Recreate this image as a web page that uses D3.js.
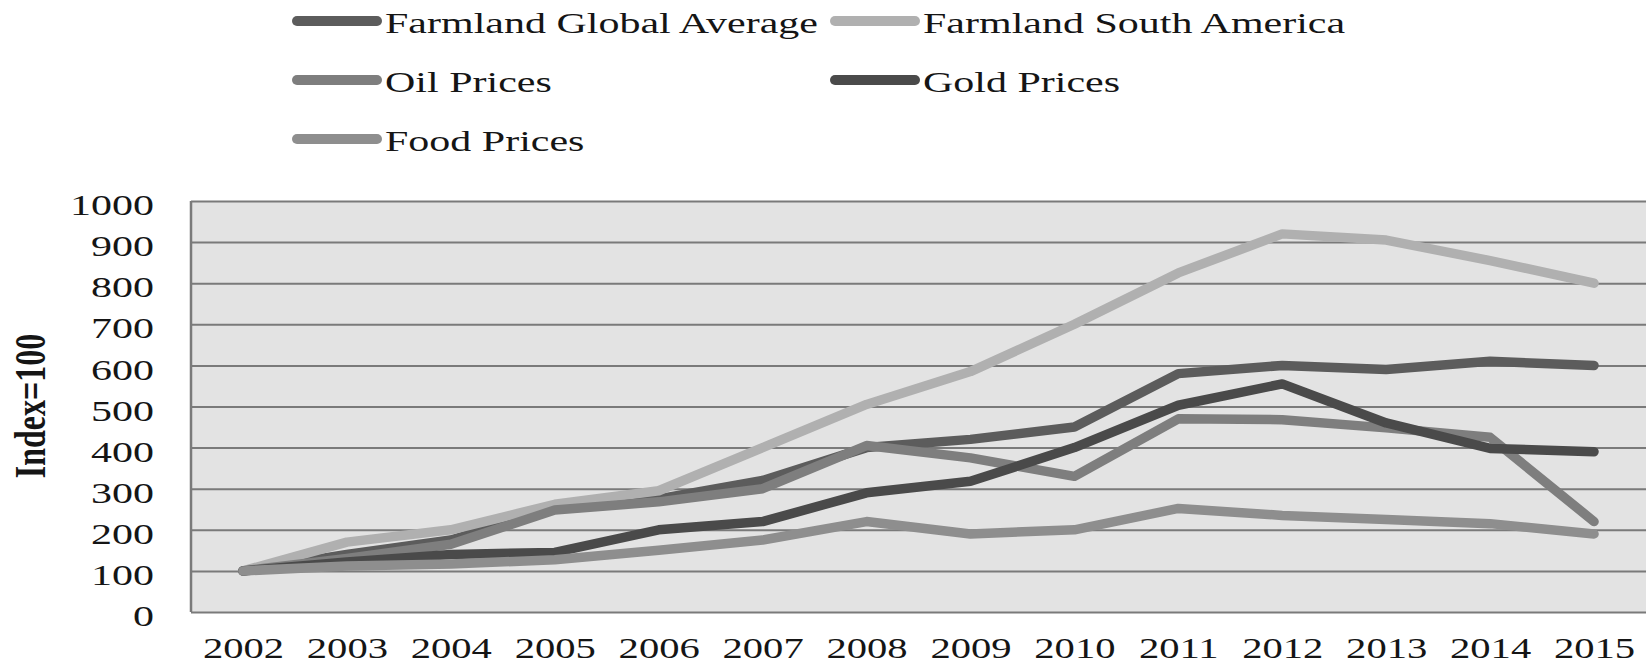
<!DOCTYPE html>
<html>
<head>
<meta charset="utf-8">
<script src="https://cdn.jsdelivr.net/npm/d3@7"></script>
<style>
    body { margin: 0; background: #fff; }
    text { font-family: "Liberation Serif", "DejaVu Serif", serif; fill: #151515; }
</style>
</head>
<body>
<div class="chart__container"></div>
<script>
/*---------------------------Data---------------------------*/

const YEARS = [2002, 2003, 2004, 2005, 2006, 2007, 2008, 2009, 2010, 2011, 2012, 2013, 2014, 2015];
const Y_TICKS = [0, 100, 200, 300, 400, 500, 600, 700, 800, 900, 1000];

const SERIES_NAMES = ["Farmland Global Average", "Farmland South America", "Oil Prices", "Gold Prices", "Food Prices"];
const FARMLAND_GLOBAL = [100, 140, 175, 250, 275, 320, 400, 420, 450, 580, 600, 590, 610, 600];
const FARMLAND_SOUTH_AMERICA = [100, 170, 200, 262, 295, 400, 505, 585, 700, 825, 920, 905, 855, 800];
const OIL_PRICES = [100, 130, 165, 248, 268, 300, 405, 375, 330, 470, 468, 448, 425, 220];
const GOLD_PRICES = [100, 122, 140, 145, 200, 220, 290, 318, 400, 503, 555, 460, 398, 390];
const FOOD_PRICES = [100, 112, 117, 127, 150, 175, 220, 190, 200, 252, 235, 225, 215, 190];

/*---------------------------Init---------------------------*/

const CHART__WIDTH = 1650;
const CHART__HEIGHT = 667;
const PLOT = { left: 191, right: 1646, top: 201, bottom: 612 };
const STRETCH = 1.4; // text in the picture is wide, stretch it horizontally
const COLOR = ["#5c5c5c", "#b0b0b0", "#7e7e7e", "#4a4a4a", "#8e8e8e"];

const seriesValues = [FARMLAND_GLOBAL, FARMLAND_SOUTH_AMERICA, OIL_PRICES, GOLD_PRICES, FOOD_PRICES];
const series = SERIES_NAMES.map((name, i) => ({
    name: name,
    color: COLOR[i],
    values: YEARS.map((y, j) => ({ year: y, value: seriesValues[i][j] }))
}));

const svg = d3.select(".chart__container").append("svg")
    .attr("width", CHART__WIDTH)
    .attr("height", CHART__HEIGHT)
    .style("display", "block");

const xScale = d3.scalePoint().domain(YEARS).range([PLOT.left, PLOT.right]).padding(0.5);
const yScale = d3.scaleLinear().domain([0, 1000]).range([PLOT.bottom, PLOT.top]);

//plot background

svg.append("rect")
    .attr("x", PLOT.left)
    .attr("y", PLOT.top)
    .attr("width", PLOT.right - PLOT.left)
    .attr("height", PLOT.bottom - PLOT.top)
    .attr("fill", "#e3e3e3");

//gridlines

svg.append("g")
    .attr("transform", `translate(${PLOT.left},0)`)
    .call(d3.axisLeft(yScale).tickValues(Y_TICKS).tickSize(-(PLOT.right - PLOT.left)).tickFormat(""))
    .call(g => g.select(".domain").remove())
    .call(g => g.selectAll("line").attr("stroke", "#7a7a7a").attr("stroke-width", 2));

//left border

svg.append("line")
    .attr("x1", PLOT.left).attr("x2", PLOT.left)
    .attr("y1", PLOT.top).attr("y2", PLOT.bottom)
    .attr("stroke", "#7a7a7a")
    .attr("stroke-width", 2.5);

//y-axis labels

svg.append("g")
    .attr("transform", `translate(${PLOT.left},0)`)
    .call(d3.axisLeft(yScale).tickValues(Y_TICKS).tickSize(0).tickFormat(d3.format("d")))
    .call(g => g.select(".domain").remove())
    .call(g => g.selectAll("text")
        .attr("x", 0)
        .attr("dy", "0.32em")
        .attr("transform", `translate(-37,4) scale(${STRETCH},1)`)
        .style("font-family", "'Liberation Serif', serif")
        .style("font-size", "30px")
        .attr("fill", "#151515"));

//x-axis labels

svg.append("g")
    .attr("transform", `translate(0,${PLOT.bottom})`)
    .call(d3.axisBottom(xScale).tickSize(0))
    .call(g => g.select(".domain").remove())
    .call(g => g.selectAll("text")
        .attr("y", 0)
        .attr("dy", 0)
        .attr("transform", `translate(0,46) scale(${STRETCH},1)`)
        .style("font-family", "'Liberation Serif', serif")
        .style("font-size", "29px")
        .attr("fill", "#151515"));

//y-axis title

svg.append("text")
    .attr("transform", `translate(29,406) scale(${STRETCH},1) rotate(-90)`)
    .attr("text-anchor", "middle")
    .attr("dy", "0.35em")
    .style("font-size", "32px")
    .style("font-weight", "bold")
    .text("Index=100");

//lines

const line = d3.line()
    .x(d => xScale(d.year))
    .y(d => yScale(d.value));

svg.append("g")
    .selectAll("path")
    .data(series)
    .enter()
    .append("path")
    .attr("d", d => line(d.values))
    .attr("fill", "none")
    .attr("stroke", d => d.color)
    .attr("stroke-width", 9.5)
    .attr("stroke-linejoin", "round")
    .attr("stroke-linecap", "round");

//legend

const legendX = [292, 830];
const legendY = [21, 80, 139];

const legend = svg.append("g")
    .selectAll("g")
    .data(series)
    .enter()
    .append("g")
    .attr("transform", (d, i) => `translate(${legendX[i % 2]},${legendY[Math.floor(i / 2)]})`);

legend.append("line")
    .attr("x1", 5).attr("x2", 85)
    .attr("y1", 0).attr("y2", 0)
    .attr("stroke", d => d.color)
    .attr("stroke-width", 10)
    .attr("stroke-linecap", "round");

legend.append("text")
    .attr("transform", `translate(93,12) scale(${STRETCH},1)`)
    .style("font-size", "30px")
    .text(d => d.name);
</script>
</body>
</html>
